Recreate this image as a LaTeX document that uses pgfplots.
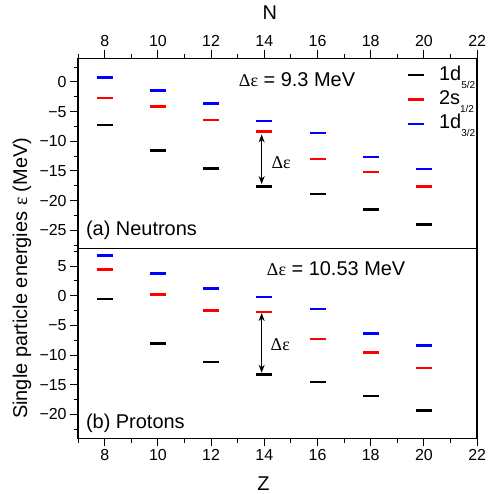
\documentclass[border=0pt]{standalone}
\usepackage{fontspec}
\setmainfont{Liberation Sans}
\newfontfamily\serifgr{Liberation Serif}
\usepackage{pgfplots}
\pgfplotsset{compat=1.18}
\usetikzlibrary{arrows.meta}
\newcommand{\de}{{\serifgr\fontsize{18}{18}\selectfont Δε}}
\newcommand{\sub}[1]{\raisebox{-8pt}[0pt][0pt]{\fontsize{10}{10}\selectfont #1}}
\tikzset{armark/.style={{Stealth[length=8pt,width=6pt]}-{Stealth[length=8pt,width=6pt]}, line width=0.8pt}}
\pgfplotsset{
  lev/.style={only marks, mark=-, mark size=8pt, mark options={line width=2.6pt}},
  common/.style={
    width=400pt, height=190.5pt, scale only axis,
    xmin=7, xmax=22,
    tick align=outside, major tick length=8pt, minor tick length=4.5pt,
    xtick={8,10,...,22}, minor xtick={7,9,...,21},
    ytick pos=left,
    every tick/.style={line width=1pt, black},
    every minor tick/.style={line width=1pt, black},
    axis line style={line width=1.3pt},
    ticklabel style={font=\fontsize{16}{16}\selectfont},
    /pgf/number format/assume math mode=true,
    clip=false,
  },
}
\begin{document}
\begin{tikzpicture}
% top panel: neutrons
\begin{axis}[common, at={(0pt,190.5pt)}, anchor=south west,
  ymin=-28, ymax=4,
  xtick pos=right, xticklabel pos=right,
  ytick={-25,-20,-15,-10,-5,0}, yticklabels={−25,−20,−15,−10,−5,0},
  minor ytick={-27.5,-22.5,...,2.5},
  legend style={draw=none, fill=none, at={(axis cs:19.38,2.7)}, anchor=north west,
    font=\fontsize{20}{20}\selectfont, row sep=6.5pt, inner sep=0pt,
    nodes={inner sep=0pt, text height=14pt, text depth=4pt},
    /tikz/every odd column/.append style={column sep=15.5pt},
    cells={anchor=west}},
  legend cell align=left,
]
\addplot[lev, black] coordinates {(8,-7.26)(10,-11.6)(12,-14.56)(14,-17.65)(16,-18.9)(18,-21.48)(20,-24.05)};
\addlegendentry{1d\sub{5/2}}
\addplot[lev, red] coordinates {(8,-2.74)(10,-4.18)(12,-6.42)(14,-8.35)(16,-12.95)(18,-15.18)(20,-17.64)};
\addlegendentry{2s\sub{1/2}}
\addplot[lev, blue] coordinates {(8,0.77)(10,-1.4)(12,-3.63)(14,-6.59)(16,-8.6)(18,-12.67)(20,-14.68)};
\addlegendentry{1d\sub{3/2}}
\node[font=\fontsize{20}{20}\selectfont] at (axis cs:15.23,0.4) {\de{} = 9.3 MeV};
\draw[armark] (axis cs:13.9,-8.85) -- (axis cs:13.9,-17.2);
\node at (axis cs:14.63,-13.55) {\de};
\node[font=\fontsize{20}{20}\selectfont, anchor=base west, inner sep=0pt] at (axis cs:7.29,-25.9) {(a) Neutrons};
\end{axis}
% bottom panel: protons
\begin{axis}[common, at={(0pt,0pt)}, anchor=south west,
  ymin=-24, ymax=8,
  xtick pos=left, xticklabel pos=left,
  ytick={-20,-15,-10,-5,0,5}, yticklabels={−20,−15,−10,−5,0,5},
  minor ytick={-22.5,-17.5,...,7.5},
]
\addplot[lev, black] coordinates {(8,-0.56)(10,-8.0)(12,-11.17)(14,-13.28)(16,-14.5)(18,-16.86)(20,-19.35)};
\addplot[lev, red] coordinates {(8,4.4)(10,0.17)(12,-2.48)(14,-2.75)(16,-7.28)(18,-9.59)(20,-12.18)};
\addplot[lev, blue] coordinates {(8,6.77)(10,3.72)(12,1.18)(14,-0.22)(16,-2.25)(18,-6.37)(20,-8.4)};
\node[font=\fontsize{20}{20}\selectfont] at (axis cs:16.7,4.5) {\de{} = 10.53 MeV};
\draw[armark] (axis cs:13.9,-2.93) -- (axis cs:13.9,-12.97);
\node at (axis cs:14.6,-8.2) {\de};
\node[font=\fontsize{20}{20}\selectfont, anchor=base west, inner sep=0pt] at (axis cs:7.29,-22.3) {(b) Protons};
\end{axis}
\node[font=\fontsize{20}{20}\selectfont] at (192.2pt,426.3pt) {N};
\node[font=\fontsize{20}{20}\selectfont] at (185.7pt,-45.7pt) {Z};
\node[font=\fontsize{20}{20}\selectfont, rotate=90] at (-56.3pt,160.3pt) {Single particle energies \serifgr ε\normalfont{} (MeV)};
\path (-78.3pt,-54.7pt) rectangle (409.7pt,439.3pt);
\end{tikzpicture}
\end{document}
